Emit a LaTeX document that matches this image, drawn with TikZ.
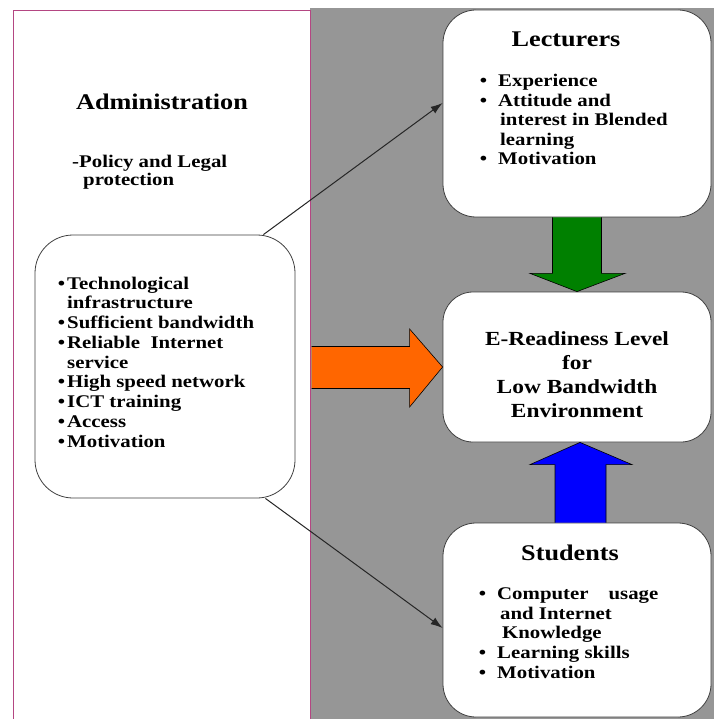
\documentclass[tikz,border=0pt]{standalone}
\usepackage{fontspec}
\setmainfont{Liberation Serif}[FakeStretch=1.17]
\usetikzlibrary{calc,arrows.meta}
\definecolor{pagegray}{RGB}{150,150,150}
\definecolor{rimpink}{RGB}{180,70,130}
\definecolor{arroworange}{RGB}{255,102,0}
\definecolor{arrowgreen}{RGB}{0,128,0}
\definecolor{arrowblue}{RGB}{0,0,255}
\newcommand{\itemdot}[1][4pt]{\llap{\textbullet\hspace{#1}}}
\tikzset{
  roundbox/.style={draw=black!75, fill=white, line width=0.8pt, rounded corners=33pt},
  titletext/.style={font=\fontsize{22.4}{26}\selectfont\bfseries, inner sep=0pt},
  listtext/.style={font=\fontsize{17.8}{19.6}\selectfont\bfseries, align=left, inner sep=0pt},
  thinarrow/.style={-{Latex[length=12pt,width=8pt]}, line width=1pt, black!85},
  blockarrow/.style={draw=black, line width=0.6pt, line join=miter},
}

\begin{document}
\begin{tikzpicture}[x=1pt,y=-1pt]
			%%%%% START %%%%%
			\clip (0,0) rectangle (714,719);
			\fill[white] (0,0) rectangle (714,719);
			\fill[pagegray] (310,8) rectangle (714,719);
			
			\node[draw=rimpink, fill=white, line width=1pt, anchor=north west, minimum width=297, minimum height=730] (adminpanel) at (13,10) {};
			
			% multi-line texts sit on the baseline of their last line
			\node[titletext, anchor=base] (admtitle) at (162,110) {Administration};
			\node[listtext, anchor=base west, font=\fontsize{17.8}{18}\selectfont\bfseries] (admpolicy) at (72,186) {-Policy and Legal\\\hspace{11pt}protection};
			
			\node[roundbox, minimum width=260, minimum height=263, rounded corners=38pt] (tech) at (165,366.5) {};
			\node[listtext, anchor=base west, font=\fontsize{17.8}{19.75}\selectfont\bfseries] (techlist) at (67,447) {\itemdot[2pt]Technological\\infrastructure\\\itemdot[2pt]Sufficient bandwidth\\\itemdot[2pt]Reliable\ \ Internet\\service\\\itemdot[2pt]High speed network\\\itemdot[2pt]ICT training\\\itemdot[2pt]Access\\\itemdot[2pt]Motivation};
			
			\node[roundbox, minimum width=268, minimum height=207] (lect) at (577,113.5) {};
			\node[titletext, anchor=base] (lecttitle) at (566,47) {Lecturers};
			\node[listtext, anchor=base west] (lectlist) at (498,165) {\itemdot[11pt]Experience\\\itemdot[11pt]Attitude and\\\hspace{2pt}interest in Blended\\\hspace{2pt}learning\\\itemdot[11pt]Motivation};
			
			\node[roundbox, minimum width=268, minimum height=150, rounded corners=30pt] (ready) at (577,367) {};
			\node[align=center, anchor=base, inner sep=0pt, font=\fontsize{20}{23.7}\selectfont\bfseries] (readytext) at (577,417) {E-Readiness Level\\for\\Low Bandwidth\\Environment};
			
			\node[roundbox, minimum width=268, minimum height=194] (stud) at (577,620) {};
			\node[titletext, anchor=base] (studtitle) at (570,560) {Students};
			\node[listtext, anchor=base west] (studlist) at (497,678) {\itemdot[11pt]Computer\hspace{20pt}usage\\\hspace{3pt}and Internet\\\hspace{5pt}Knowledge\\\itemdot[11pt]Learning skills\\\itemdot[11pt]Motivation};
			
			% thin arrows out of the admin box
			\draw[thinarrow] ([xshift=-32pt]tech.north east) -- ([yshift=10.5pt]lect.west);
			\draw[thinarrow] ([xshift=-30pt]tech.south east) -- ([yshift=-8pt]stud.west);
			
			% block arrows
			\draw[blockarrow, fill=arroworange] ($(ready.west -| adminpanel.east)+(0.5,-20.5)$) -- ($(ready.west)+(-33,-20.5)$) -- ($(ready.west)+(-33,-38)$) -- (ready.west) -- ($(ready.west)+(-33,40)$) -- ($(ready.west)+(-33,21.5)$) -- ($(ready.west -| adminpanel.east)+(0.5,21.5)$);
			\draw[blockarrow, fill=arrowgreen] ($(lect.south)+(-24.5,0)$) -- ($(lect.south)+(-24.5,56)$) -- ($(lect.south)+(-47,56)$) -- (ready.north) -- ($(lect.south)+(48,56)$) -- ($(lect.south)+(24.5,56)$) -- ($(lect.south)+(24.5,0)$);
			\draw[blockarrow, fill=arrowblue] ($(stud.north)+(-22,0)$) -- ($(stud.north)+(-22,-58)$) -- ($(stud.north)+(-47,-58)$) -- ($(ready.south)+(3,0)$) -- ($(stud.north)+(55,-58)$) -- ($(stud.north)+(29,-58)$) -- ($(stud.north)+(29,0)$);
			%%%%% END %%%%%
\end{tikzpicture}
\end{document}
